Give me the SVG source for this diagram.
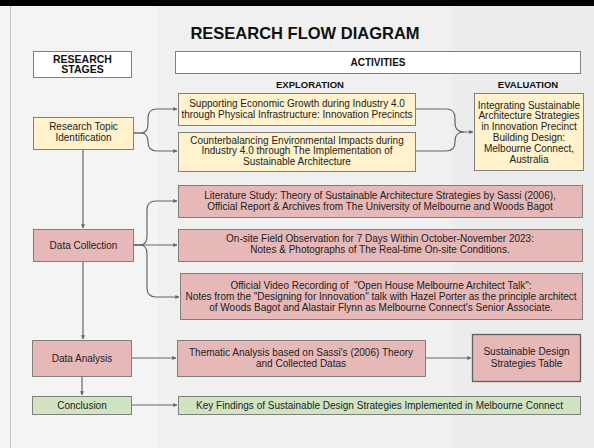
<svg xmlns="http://www.w3.org/2000/svg" width="594" height="448" viewBox="0 0 594 448">
<style>
.t{font-family:"Liberation Sans",Arial,sans-serif;font-size:10px;fill:#222;text-anchor:middle}
.b{font-weight:bold;fill:#111}
.box{stroke:#7f7f7f;stroke-width:1}
.y{fill:#fff2cc}
.r{fill:#e6b8b7}
.g{fill:#d0e4c2}
.w{fill:#ffffff}
.c{fill:none;stroke:#666;stroke-width:1.2}
.a{marker-end:url(#ah)}
</style>
<defs>
<marker id="ah" viewBox="0 0 6 6" refX="5.5" refY="3" markerWidth="4" markerHeight="4" orient="auto" markerUnits="userSpaceOnUse">
<path d="M0,0 L6,3 L0,6 z" fill="#666"/>
</marker>
</defs>
<rect x="0" y="0" width="594" height="448" fill="#f4f4f4"/>
<rect x="158" y="6" width="295" height="442" fill="#f0f0f0"/>
<rect x="453" y="6" width="141" height="442" fill="#ececec"/>
<rect x="0" y="0" width="594" height="6" fill="#000"/>
<line x1="10.5" y1="6" x2="10.5" y2="448" stroke="#c4c4c4" stroke-width="1"/>

<text class="t b" x="305" y="39" style="font-size:16.5px">RESEARCH FLOW DIAGRAM</text>

<g id="stages">
<rect class="box w" x="33.5" y="51.5" width="98" height="26"/>
<text class="t b" x="82.5" y="62.5" style="font-size:10.5px">RESEARCH</text>
<text class="t b" x="82.5" y="73" style="font-size:10.5px">STAGES</text>
</g>
<g id="activities">
<rect class="box w" x="175.5" y="51.5" width="405" height="22"/>
<text class="t b" x="378" y="66">ACTIVITIES</text>
</g>
<text class="t b" x="310" y="87.5" style="font-size:9.5px">EXPLORATION</text>
<text class="t b" x="528" y="87.5" style="font-size:9.5px">EVALUATION</text>

<g id="connectors">
<path class="c a" d="M133,133 H141 Q148,133 148,124 V118 Q148,109 157,109 H177"/>
<path class="c a" d="M133,133 H141 Q148,133 148,142 V142 Q148,151 157,151 H177"/>
<path class="c a" d="M415,109 H446 Q455,109 455,118 V123 Q455,132 464,132 H473"/>
<path class="c" d="M415,151 H446 Q455,151 455,142 V141 Q455,132 464,132"/>
<path class="c a" d="M83,149 V228"/>
<path class="c a" d="M133,245 H140 Q147,245 147,236 V210 Q147,201 156,201 H177"/>
<path class="c a" d="M133,245 H177"/>
<path class="c a" d="M133,245 H140 Q147,245 147,254 V288 Q147,297 156,297 H179"/>
<path class="c a" d="M83,261 V339"/>
<path class="c a" d="M131,358 H176"/>
<path class="c a" d="M425,358 H471"/>
<path class="c a" d="M82,376 V395"/>
<path class="c a" d="M131,405 H177"/>
</g>

<g id="rti">
<rect class="box y" x="33.5" y="117.5" width="100" height="32"/>
<text class="t" x="83.5" y="129.5">Research Topic</text>
<text class="t" x="83.5" y="140.5">Identification</text>
</g>
<g id="explore1">
<rect class="box y" x="178.5" y="93.5" width="237" height="32"/>
<text class="t" x="297" y="107">Supporting Economic Growth during Industry 4.0</text>
<text class="t" x="297" y="117.5">through Physical Infrastructure: Innovation Precincts</text>
</g>
<g id="explore2">
<rect class="box y" x="178.5" y="132.5" width="237" height="39"/>
<text class="t" x="297" y="143.5">Counterbalancing Environmental Impacts during</text>
<text class="t" x="297" y="154">Industry 4.0 through The Implementation of</text>
<text class="t" x="297" y="164.5">Sustainable Architecture</text>
</g>
<g id="evaluation">
<rect class="box y" x="474.5" y="93.5" width="109" height="77"/>
<text class="t" x="529" y="108.5">Integrating Sustainable</text>
<text class="t" x="529" y="119.3">Architecture Strategies</text>
<text class="t" x="529" y="130.1">in Innovation Precinct</text>
<text class="t" x="529" y="140.9">Building Design:</text>
<text class="t" x="529" y="151.7">Melbourne Connect,</text>
<text class="t" x="529" y="162.5">Australia</text>
</g>

<g id="dc">
<rect class="box r" x="33.5" y="229.5" width="100" height="32"/>
<text class="t" x="83.5" y="248.5">Data Collection</text>
</g>
<g id="literature">
<rect class="box r" x="178.5" y="185.5" width="404" height="32"/>
<text class="t" x="380" y="199">Literature Study: Theory of Sustainable Architecture Strategies by Sassi (2006),</text>
<text class="t" x="380" y="210">Official Report &amp; Archives from The University of Melbourne and Woods Bagot</text>
</g>
<g id="onsite">
<rect class="box r" x="178.5" y="229.5" width="404" height="32"/>
<text class="t" x="380" y="241.5">On-site Field Observation for 7 Days Within October-November 2023:</text>
<text class="t" x="380" y="252.5">Notes &amp; Photographs of The Real-time On-site Conditions.</text>
</g>
<g id="video">
<rect class="box r" x="180.5" y="273.5" width="402" height="46"/>
<text class="t" x="381" y="288.5" style="white-space:pre">Official Video Recording of  "Open House Melbourne Architect Talk":</text>
<text class="t" x="381" y="299.5">Notes from the "Designing for Innovation" talk with Hazel Porter as the principle architect</text>
<text class="t" x="381" y="310.5">of Woods Bagot and Alastair Flynn as Melbourne Connect's Senior Associate.</text>
</g>

<g id="da">
<rect class="box r" x="32.5" y="340.5" width="99" height="36"/>
<text class="t" x="82" y="361.5">Data Analysis</text>
</g>
<g id="thematic">
<rect class="box r" x="177.5" y="340.5" width="248" height="36"/>
<text class="t" x="301" y="355.5">Thematic Analysis based on Sassi's (2006) Theory</text>
<text class="t" x="301" y="367">and Collected Datas</text>
</g>
<g id="table">
<rect class="box r" x="472.5" y="334.5" width="108" height="47" style="stroke:#5f5f5f;stroke-width:1.3"/>
<text class="t" x="526.5" y="355">Sustainable Design</text>
<text class="t" x="526.5" y="366.5">Strategies Table</text>
</g>

<g id="conclusion">
<rect class="box g" x="32.5" y="396.5" width="99" height="18"/>
<text class="t" x="82" y="409">Conclusion</text>
</g>
<g id="findings">
<rect class="box g" x="178.5" y="396.5" width="402" height="18"/>
<text class="t" x="379.5" y="409">Key Findings of Sustainable Design Strategies Implemented in Melbourne Connect</text>
</g>
</svg>
